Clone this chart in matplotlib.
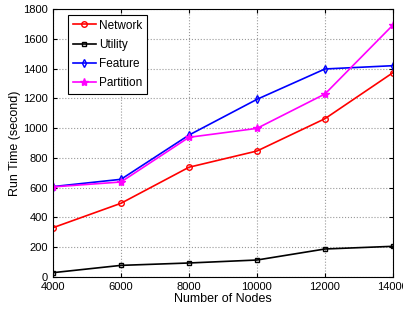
import matplotlib
matplotlib.use('Agg')
import matplotlib.pyplot as plt

plt.rcParams['font.family'] = ['Liberation Sans', 'DejaVu Sans']

nodes = [4000, 6000, 8000, 10000, 12000, 14000]
network = [331, 495, 737, 846, 1063, 1372]
utility = [29, 78, 94, 114, 188, 206]
feature = [607, 656, 953, 1193, 1397, 1419]
partition = [605, 638, 938, 998, 1229, 1692]

fig = plt.figure(figsize=(4.03, 3.09), dpi=100)
ax = fig.add_axes([0.1315, 0.1036, 0.8435, 0.8674])

ax.plot(nodes, network, color='red', marker='o', ms=4, mfc='none', lw=1.2, label='Network')
ax.plot(nodes, utility, color='black', marker='s', ms=3.5, mfc='none', lw=1.2, label='Utility')
ax.plot(nodes, feature, color='blue', marker='d', ms=4, mfc='none', lw=1.2, label='Feature')
ax.plot(nodes, partition, color='magenta', marker='*', ms=6, lw=1.2, label='Partition')

ax.set_xlim(4000, 14000)
ax.set_ylim(0, 1800)
ax.set_xticks(nodes)
ax.set_yticks(range(0, 1801, 200))
ax.grid(True, linestyle=':', color='#999999', lw=0.8)
ax.tick_params(direction='in', labelsize=8, length=3, top=True, right=True)
ax.set_xlabel('Number of Nodes', fontsize=9, labelpad=1)
ax.set_ylabel('Run Time (second)', fontsize=9, labelpad=2)

leg = ax.legend(loc='upper left', bbox_to_anchor=(0.044, 0.978), borderaxespad=0,
                fontsize=8.5, fancybox=False, edgecolor='black', framealpha=1,
                handlelength=2.0, borderpad=0.4, labelspacing=0.6, handletextpad=0.25)
leg.get_frame().set_linewidth(0.8)

fig.savefig('out.png', dpi=100)
